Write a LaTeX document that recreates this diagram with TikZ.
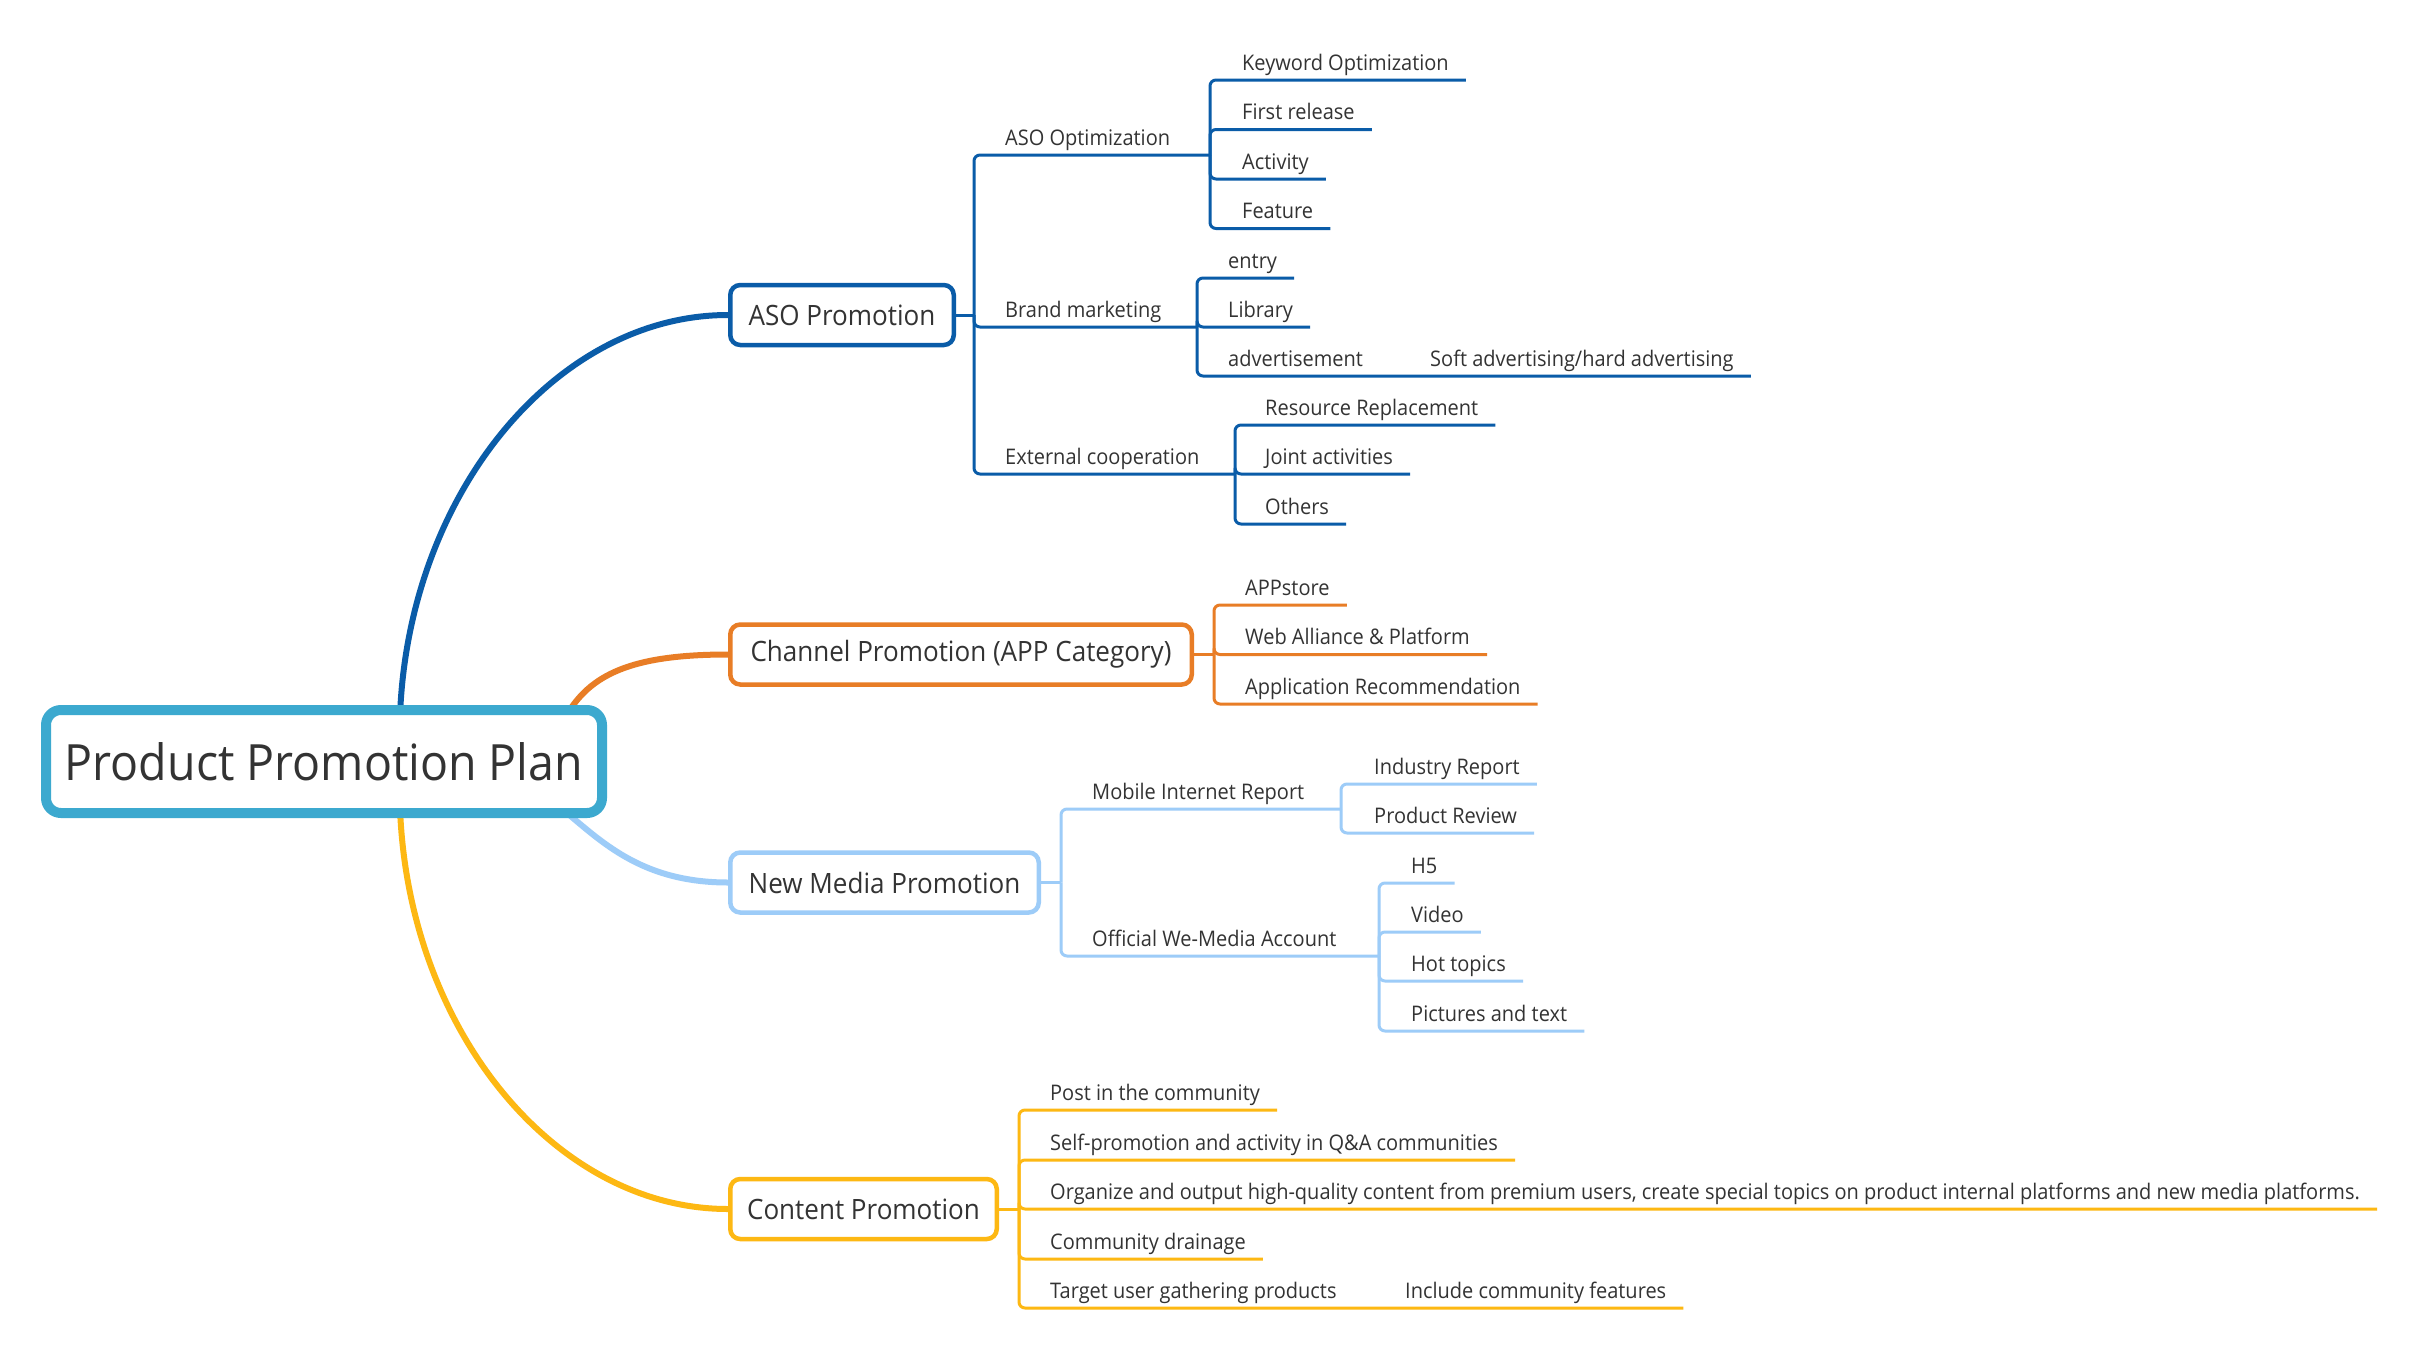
\documentclass[tikz,border=0pt]{standalone}
\usepackage{fontspec}
\setmainfont{Open Sans}[FakeStretch=0.93]
\usetikzlibrary{calc}
\definecolor{cA}{HTML}{0A5CA8}
\definecolor{cO}{HTML}{E87D26}
\definecolor{cL}{HTML}{9DCCF8}
\definecolor{cY}{HTML}{FDB813}
\definecolor{cC}{HTML}{3CA9CF}
\definecolor{txt}{HTML}{333333}
\newcommand\lblfont{\fontsize{21.5}{26}\selectfont}
\newcommand\boxfont{\fontsize{28}{34}\selectfont}
\newcommand\titlefont{\fontsize{50}{60}\selectfont}
\begin{document}
\begin{tikzpicture}[x=1pt,y=-1pt,
  lbl/.style={anchor=base west, inner sep=0pt, font=\lblfont, text=txt},
  topic/.style={draw, line width=4.5pt, rounded corners=10pt, fill=white, text=txt,
    font=\boxfont, minimum height=60pt, anchor=west, inner sep=0pt},
  br/.style={line width=3pt, rounded corners=6pt},
  trunk/.style={line width=6pt},
]
\fill[white] (0,0) rectangle (2429,1368);
\path[use as bounding box] (0,0) rectangle (2429,1368);

% trunks (drawn first, hidden behind the root box)
\coordinate (rA) at (400,716);
\coordinate (rO) at (566,716);
\coordinate (rL) at (561,808);
\coordinate (rY) at (400,808);
\coordinate (aA) at (728,315);
\coordinate (aO) at (728,654.5);
\coordinate (aL) at (728,882.5);
\coordinate (aY) at (728,1209);
\draw[trunk,cA] (rA) .. controls (408,495) and (555,315) .. (aA);
\draw[trunk,cO] (rO) .. controls (590,675) and (630,654.5) .. (aO);
\draw[trunk,cL] (rL) .. controls (600,840) and (640,882.5) .. (aL);
\draw[trunk,cY] (rY) .. controls (408,1030) and (555,1209) .. (aY);

% root
\node[draw=cC, line width=10pt, rounded corners=15pt, fill=white, text=txt,
  font=\titlefont, minimum width=556pt, minimum height=103pt, inner sep=0pt,
  anchor=west] (root) at (41,761.5) {Product Promotion Plan};

% topic boxes
\node[topic, draw=cA, minimum width=223.5pt] (aso) at (aA) {ASO Promotion};
\node[topic, draw=cO, minimum width=461.5pt] (chan) at (aO) {Channel Promotion (APP Category)};
\node[topic, draw=cL, minimum width=308.5pt] (nm) at (aL) {New Media Promotion};
\node[topic, draw=cY, minimum width=266.5pt] (ct) at (aY) {Content Promotion};

% ---------- ASO ----------
\coordinate (jA) at (974,315);
\node[lbl] (a1) at (1005,145) {ASO Optimization};
\node[lbl] (a2) at (1005,317) {Brand marketing};
\node[lbl] (a3) at (1005,464) {External cooperation};
\coordinate (jA1) at (1210,155);
\coordinate (jA2) at (1197,327);
\coordinate (jA3) at (1235,474);
\node[lbl] (a11) at (1242,70) {Keyword Optimization};
\node[lbl] (a12) at (1242,119.5) {First release};
\node[lbl] (a13) at (1242,169) {Activity};
\node[lbl] (a14) at (1242,218.5) {Feature};
\node[lbl] (a21) at (1228,268) {entry};
\node[lbl] (a22) at (1228,317) {Library};
\node[lbl] (a23) at (1228,366) {advertisement};
\node[lbl] (a231) at (1430,366) {Soft advertising/hard advertising};
\node[lbl] (a31) at (1265,415) {Resource Replacement};
\node[lbl] (a32) at (1265,464) {Joint activities};
\node[lbl] (a33) at (1265,514) {Others};
\draw[br,cA] (aso.east) -- (jA);
\draw[br,cA] (jA) |- (jA1);
\draw[br,cA] (jA) |- (jA2);
\draw[br,cA] (jA) |- (jA3);
\foreach \n in {a11,a12,a13,a14}{\draw[br,cA] (jA1) |- ($(\n.base east)+(17,10)$);}
\foreach \n in {a21,a22,a231}{\draw[br,cA] (jA2) |- ($(\n.base east)+(17,10)$);}
\foreach \n in {a31,a32,a33}{\draw[br,cA] (jA3) |- ($(\n.base east)+(17,10)$);}

% ---------- Channel ----------
\coordinate (jC) at (1214,654.5);
\node[lbl] (c1) at (1245,595) {APPstore};
\node[lbl] (c2) at (1245,644.5) {Web Alliance \& Platform};
\node[lbl] (c3) at (1245,694) {Application Recommendation};
\draw[br,cO] (chan.east) -- (jC);
\foreach \n in {c1,c2,c3}{\draw[br,cO] (jC) |- ($(\n.base east)+(17,10)$);}

% ---------- New Media ----------
\coordinate (jN) at (1061,882.5);
\node[lbl] (n1) at (1092,799) {Mobile Internet Report};
\node[lbl] (n2) at (1092,946) {Official We-Media Account};
\coordinate (jN1) at (1341,809);
\coordinate (jN2) at (1379,956);
\node[lbl] (n11) at (1374,774) {Industry Report};
\node[lbl] (n12) at (1374,823) {Product Review};
\node[lbl] (n21) at (1411,873) {H5};
\node[lbl] (n22) at (1411,922) {Video};
\node[lbl] (n23) at (1411,971) {Hot topics};
\node[lbl] (n24) at (1411,1021) {Pictures and text};
\draw[br,cL] (nm.east) -- (jN);
\draw[br,cL] (jN) |- (jN1);
\draw[br,cL] (jN) |- (jN2);
\foreach \n in {n11,n12}{\draw[br,cL] (jN1) |- ($(\n.base east)+(17,10)$);}
\foreach \n in {n21,n22,n23,n24}{\draw[br,cL] (jN2) |- ($(\n.base east)+(17,10)$);}

% ---------- Content ----------
\coordinate (jT) at (1019,1209);
\node[lbl] (t1) at (1050,1100) {Post in the community};
\node[lbl] (t2) at (1050,1150) {Self-promotion and activity in Q\&A communities};
\node[lbl] (t3) at (1050,1199) {Organize and output high-quality content from premium users, create special topics on product internal platforms and new media platforms.};
\node[lbl] (t4) at (1050,1249) {Community drainage};
\node[lbl] (t5) at (1050,1298) {Target user gathering products};
\node[lbl] (t51) at (1405,1298) {Include community features};
\draw[br,cY] (ct.east) -- (jT);
\foreach \n in {t1,t2,t3,t4,t51}{\draw[br,cY] (jT) |- ($(\n.base east)+(17,10)$);}
\end{tikzpicture}
\end{document}
